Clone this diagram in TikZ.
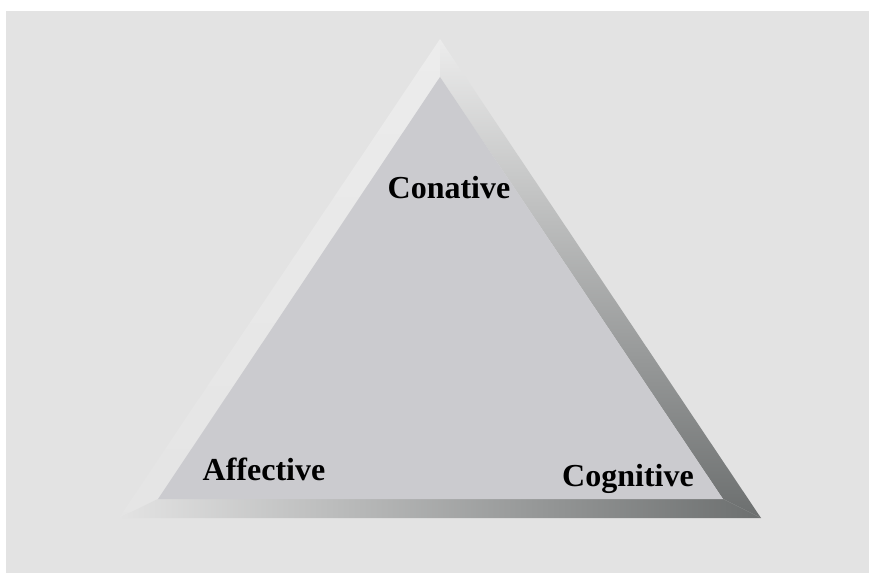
\documentclass[tikz,border=0pt]{standalone}
\usepackage{fontspec}
\setmainfont{Liberation Serif}
\usetikzlibrary{positioning}

\definecolor{panelgray}{HTML}{E3E3E3}
\definecolor{facegray}{HTML}{CBCBCF}
\definecolor{bevellight}{HTML}{ECECEC}
\definecolor{beveldark}{HTML}{6C6F6F}

\begin{document}
\begin{tikzpicture}[line cap=round,line join=round,x=1pt,y=1pt]
\tikzset{corner/.style={font=\bfseries\fontsize{32}{38}\selectfont, anchor=base, inner sep=0pt}}

\useasboundingbox (0,0) rectangle (869,573);

%panel
\fill[panelgray] (6,0) rectangle (869,562);

%triangle corners
\coordinate (OT) at (440,534); %outer top
\coordinate (OL) at (119,55);  %outer left
\coordinate (OR) at (761,55);  %outer right
\coordinate (IT) at (440,496); %inner top
\coordinate (IL) at (158,74);  %inner left
\coordinate (IR) at (723,74);  %inner right

%bevel
\shade[top color=bevellight, bottom color=panelgray!95!white] (OT) -- (IT) -- (IL) -- (OL) -- cycle; %left face
\shade[top color=bevellight, bottom color=beveldark] (OT) -- (OR) -- (IR) -- (IT) -- cycle; %right face
\shade[left color=panelgray, middle color=gray!60, right color=beveldark] (OL) -- (IL) -- (IR) -- (OR) -- cycle; %bottom face

%face
\fill[facegray] (IT) -- (IL) -- (IR) -- cycle;

%labels
\node[corner] (conative) at (449,374) {Conative};
\node[corner] (affective) at (264,93) {Affective};
\node[corner] (cognitive) at (628,87) {Cognitive};
\end{tikzpicture}
\end{document}
